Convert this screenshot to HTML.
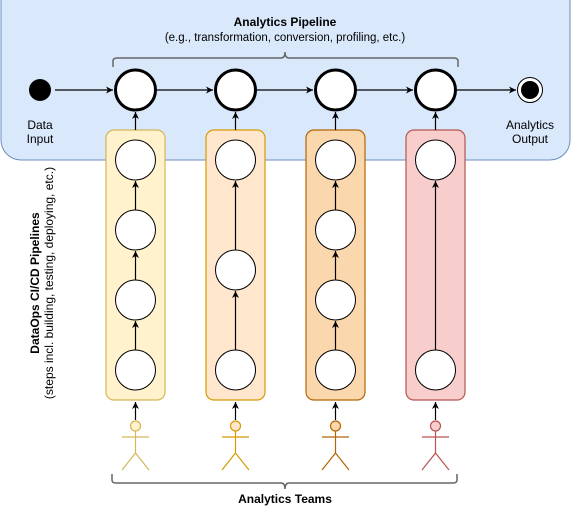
<!DOCTYPE html>
<html><head><style>body{margin:0;background:#fff}svg{display:block}text{font-family:"Liberation Sans",Arial,sans-serif}</style></head><body>
<svg width="572" height="512" viewBox="0 0 572 512" xmlns="http://www.w3.org/2000/svg">
<defs><marker id="a" markerWidth="8" markerHeight="8" refX="7" refY="4" orient="auto" markerUnits="userSpaceOnUse"><path d="M0,0.5 L7,4 L0,7.5 L2,4z" fill="#000"/></marker></defs>
<rect x="1" y="-20" width="569" height="180" rx="20" fill="#dae8fc" stroke="#6c8ebf"/>
<text x="285" y="26" font-size="12" font-weight="bold" text-anchor="middle">Analytics Pipeline</text>
<text x="285" y="41" font-size="11.5" text-anchor="middle">(e.g., transformation, conversion, profiling, etc.)</text>
<path d="M113,67 V61 Q113,58 117,58 H281 Q285,58 285,52 Q285,58 289,58 H454 Q458,58 458,61 V67" fill="none" stroke="#666" stroke-width="1.5"/>
<circle cx="40" cy="90" r="11" fill="#000"/>
<text x="40" y="129" font-size="12" text-anchor="middle">Data</text>
<text x="40" y="143" font-size="12" text-anchor="middle">Input</text>
<text x="530" y="129" font-size="12" text-anchor="middle">Analytics</text>
<text x="530" y="143" font-size="12" text-anchor="middle">Output</text>
<circle cx="530" cy="90" r="12.5" fill="#fff" stroke="#000"/><circle cx="530" cy="90" r="9" fill="#000"/>
<g stroke="#000" stroke-width="1.2" fill="none" marker-end="url(#a)">
<line x1="55" y1="90" x2="113" y2="90"/><line x1="157" y1="90" x2="213" y2="90"/><line x1="257" y1="90" x2="313" y2="90"/><line x1="357" y1="90" x2="413" y2="90"/><line x1="457" y1="90" x2="516" y2="90"/>
</g>
<g stroke-width="1.2">
<rect x="106" y="130" width="59" height="270" rx="8" fill="#fff2cc" stroke="#d6b656"/>
<rect x="206" y="130" width="59" height="270" rx="8" fill="#ffe6cc" stroke="#d79b00"/>
<rect x="306" y="130" width="59" height="270" rx="8" fill="#fad7ac" stroke="#b46504"/>
<rect x="406" y="130" width="59" height="270" rx="8" fill="#f8cecc" stroke="#b85450"/>
</g>
<g stroke="#000" stroke-width="1.2" marker-end="url(#a)">
<line x1="135.5" y1="130" x2="135.5" y2="112"/><line x1="235.5" y1="130" x2="235.5" y2="112"/><line x1="335.5" y1="130" x2="335.5" y2="112"/><line x1="435.5" y1="130" x2="435.5" y2="112"/>
<line x1="135.5" y1="210" x2="135.5" y2="181"/><line x1="135.5" y1="280" x2="135.5" y2="251"/><line x1="135.5" y1="350" x2="135.5" y2="321"/>
<line x1="235.5" y1="250" x2="235.5" y2="181"/><line x1="235.5" y1="350" x2="235.5" y2="291"/>
<line x1="335.5" y1="210" x2="335.5" y2="181"/><line x1="335.5" y1="280" x2="335.5" y2="251"/><line x1="335.5" y1="350" x2="335.5" y2="321"/>
<line x1="435.5" y1="350" x2="435.5" y2="181"/>
<line x1="135.5" y1="420" x2="135.5" y2="402"/><line x1="235.5" y1="420" x2="235.5" y2="402"/><line x1="335.5" y1="420" x2="335.5" y2="402"/><line x1="435.5" y1="420" x2="435.5" y2="402"/>
</g>
<g fill="#fff" stroke="#000" stroke-width="3">
<circle cx="135.5" cy="90" r="20"/><circle cx="235.5" cy="90" r="20"/><circle cx="335.5" cy="90" r="20"/><circle cx="435.5" cy="90" r="20"/>
</g>
<g fill="#fff" stroke="#000" stroke-width="1">
<circle cx="135.5" cy="160" r="20"/><circle cx="135.5" cy="230" r="20"/><circle cx="135.5" cy="300" r="20"/><circle cx="135.5" cy="370" r="20"/>
<circle cx="235.5" cy="160" r="20"/><circle cx="235.5" cy="270" r="20"/><circle cx="235.5" cy="370" r="20"/>
<circle cx="335.5" cy="160" r="20"/><circle cx="335.5" cy="230" r="20"/><circle cx="335.5" cy="300" r="20"/><circle cx="335.5" cy="370" r="20"/>
<circle cx="435.5" cy="160" r="20"/><circle cx="435.5" cy="370" r="20"/>
</g>
<g stroke-width="1.2">
<g fill="#fff2cc" stroke="#d6b656"><circle cx="135.5" cy="426" r="5"/><path d="M122,437 H149 M135.5,431 V453 L122,470 M135.5,453 L149,470" fill="none"/></g>
<g fill="#ffe6cc" stroke="#d79b00"><circle cx="235.5" cy="426" r="5"/><path d="M222,437 H249 M235.5,431 V453 L222,470 M235.5,453 L249,470" fill="none"/></g>
<g fill="#fad7ac" stroke="#b46504"><circle cx="335.5" cy="426" r="5"/><path d="M322,437 H349 M335.5,431 V453 L322,470 M335.5,453 L349,470" fill="none"/></g>
<g fill="#f8cecc" stroke="#b85450"><circle cx="435.5" cy="426" r="5"/><path d="M422,437 H449 M435.5,431 V453 L422,470 M435.5,453 L449,470" fill="none"/></g>
</g>
<path d="M112,474 V480 Q112,483 116,483 H281 Q285,483 285,489 Q285,483 289,483 H453 Q457,483 457,480 V474" fill="none" stroke="#666" stroke-width="1.5"/>
<text x="285" y="503" font-size="12" font-weight="bold" text-anchor="middle">Analytics Teams</text>
<text transform="translate(39,283) rotate(-90)" font-size="12" font-weight="bold" text-anchor="middle">DataOps CI/CD Pipelines</text>
<text transform="translate(53,283) rotate(-90)" font-size="12" text-anchor="middle">(steps incl. building, testing, deploying, etc.)</text>
</svg>
</body></html>
